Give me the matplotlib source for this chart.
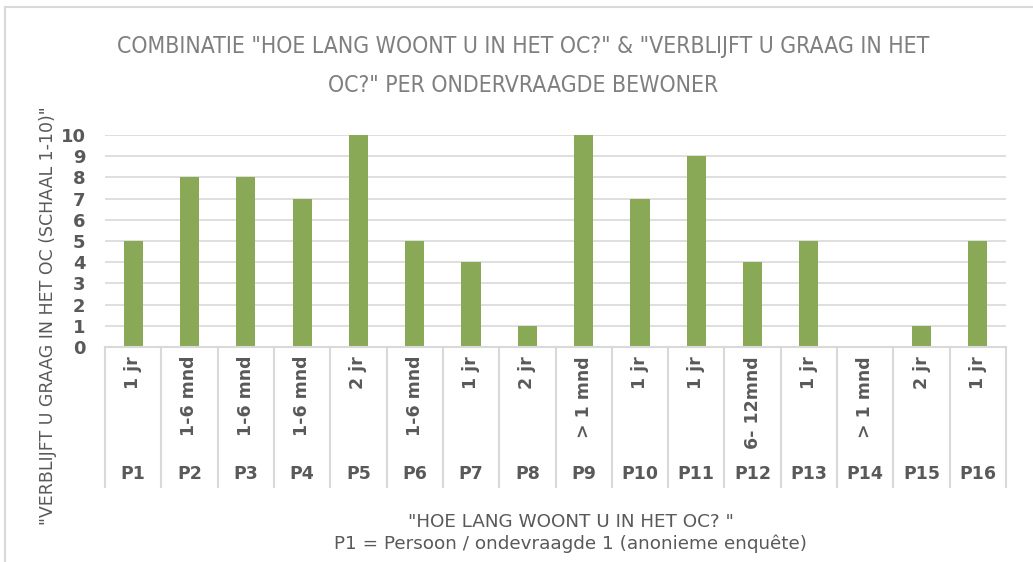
import matplotlib
matplotlib.use("Agg")
import matplotlib.pyplot as plt
from matplotlib.lines import Line2D

persons = ["P1", "P2", "P3", "P4", "P5", "P6", "P7", "P8",
           "P9", "P10", "P11", "P12", "P13", "P14", "P15", "P16"]
durations = ["1 jr", "1-6 mnd", "1-6 mnd", "1-6 mnd", "2 jr", "1-6 mnd", "1 jr", "2 jr",
             "> 1 mnd", "1 jr", "1 jr", "6- 12mnd", "1 jr", "> 1 mnd", "2 jr", "1 jr"]
scores = [5, 8, 8, 7, 10, 5, 4, 1, 10, 7, 9, 4, 5, 0, 1, 5]
yticks = list(range(0, 11))

title = 'COMBINATIE "HOE LANG WOONT U IN HET OC?" & "VERBLIJFT U GRAAG IN HET\nOC?" PER ONDERVRAAGDE BEWONER'
ylabel = '"VERBLIJFT U GRAAG IN HET OC (SCHAAL 1-10)"'
xlabel = '"HOE LANG WOONT U IN HET OC? "\nP1 = Persoon / ondevraagde 1 (anonieme enquête)'

W, H = 1033, 562
fig = plt.figure(figsize=(W / 100, H / 100), dpi=100)
fig.patch.set_facecolor("white")

left, right, top, bottom = 105, 1006, 135, 347
ax = fig.add_axes([left / W, 1 - bottom / H, (right - left) / W, (bottom - top) / H])

n = len(persons)
xs = list(range(n))
ax.bar(xs, scores, width=0.34, color="#8aa956", zorder=3)
ax.set_xlim(-0.5, n - 0.5)
ax.set_ylim(0, 10)
ax.set_yticks(yticks)
ax.set_yticklabels([str(v) for v in yticks], fontsize=13, fontweight="bold", color="#595959")
ax.tick_params(axis="y", length=0, pad=14)
ax.set_xticks([])
ax.grid(axis="y", color="#d9d9d9", linewidth=1.2, zorder=0)
for s in ax.spines.values():
    s.set_visible(False)

# category axis (multi-level)
grey = "#d9d9d9"
trans = ax.get_xaxis_transform()
ax.add_line(Line2D([-0.5, n - 0.5], [0, 0], transform=trans, color=grey, lw=1.5, clip_on=False, zorder=4))
sep_bottom = -(487 - bottom) / (bottom - top)
for i in range(n + 1):
    ax.add_line(Line2D([i - 0.5, i - 0.5], [0, sep_bottom], transform=trans, color=grey,
                       lw=1.5, clip_on=False))
inner_top = -(356 - bottom) / (bottom - top)
outer_y = -(474 - bottom) / (bottom - top)
for i in xs:
    ax.text(i, inner_top, durations[i], transform=trans, rotation=90, ha="center", va="top",
            fontsize=12.5, fontweight="bold", color="#595959")
    ax.text(i, outer_y, persons[i], transform=trans, ha="center", va="center",
            fontsize=12.5, fontweight="bold", color="#595959")

fig.text(523 / W, 1 - 66 / H, title, ha="center", va="center", fontsize=16.5,
         fontstretch="condensed", color="#7f7f7f", linespacing=1.85)
fig.text(48 / W, 1 - 316 / H, ylabel, rotation=90, ha="center", va="center",
         fontsize=12.5, color="#595959")
fig.text(571 / W, 1 - 533 / H, xlabel, ha="center", va="center",
         fontsize=13.2, color="#595959", linespacing=1.2)

# frame
fig.add_artist(Line2D([5 / W, 5 / W], [0, 1 - 7 / H], transform=fig.transFigure, color=grey, lw=1.5))
fig.add_artist(Line2D([5 / W, 1], [1 - 7 / H, 1 - 7 / H], transform=fig.transFigure, color=grey, lw=1.5))

fig.savefig("out.png", dpi=100, facecolor="white")
